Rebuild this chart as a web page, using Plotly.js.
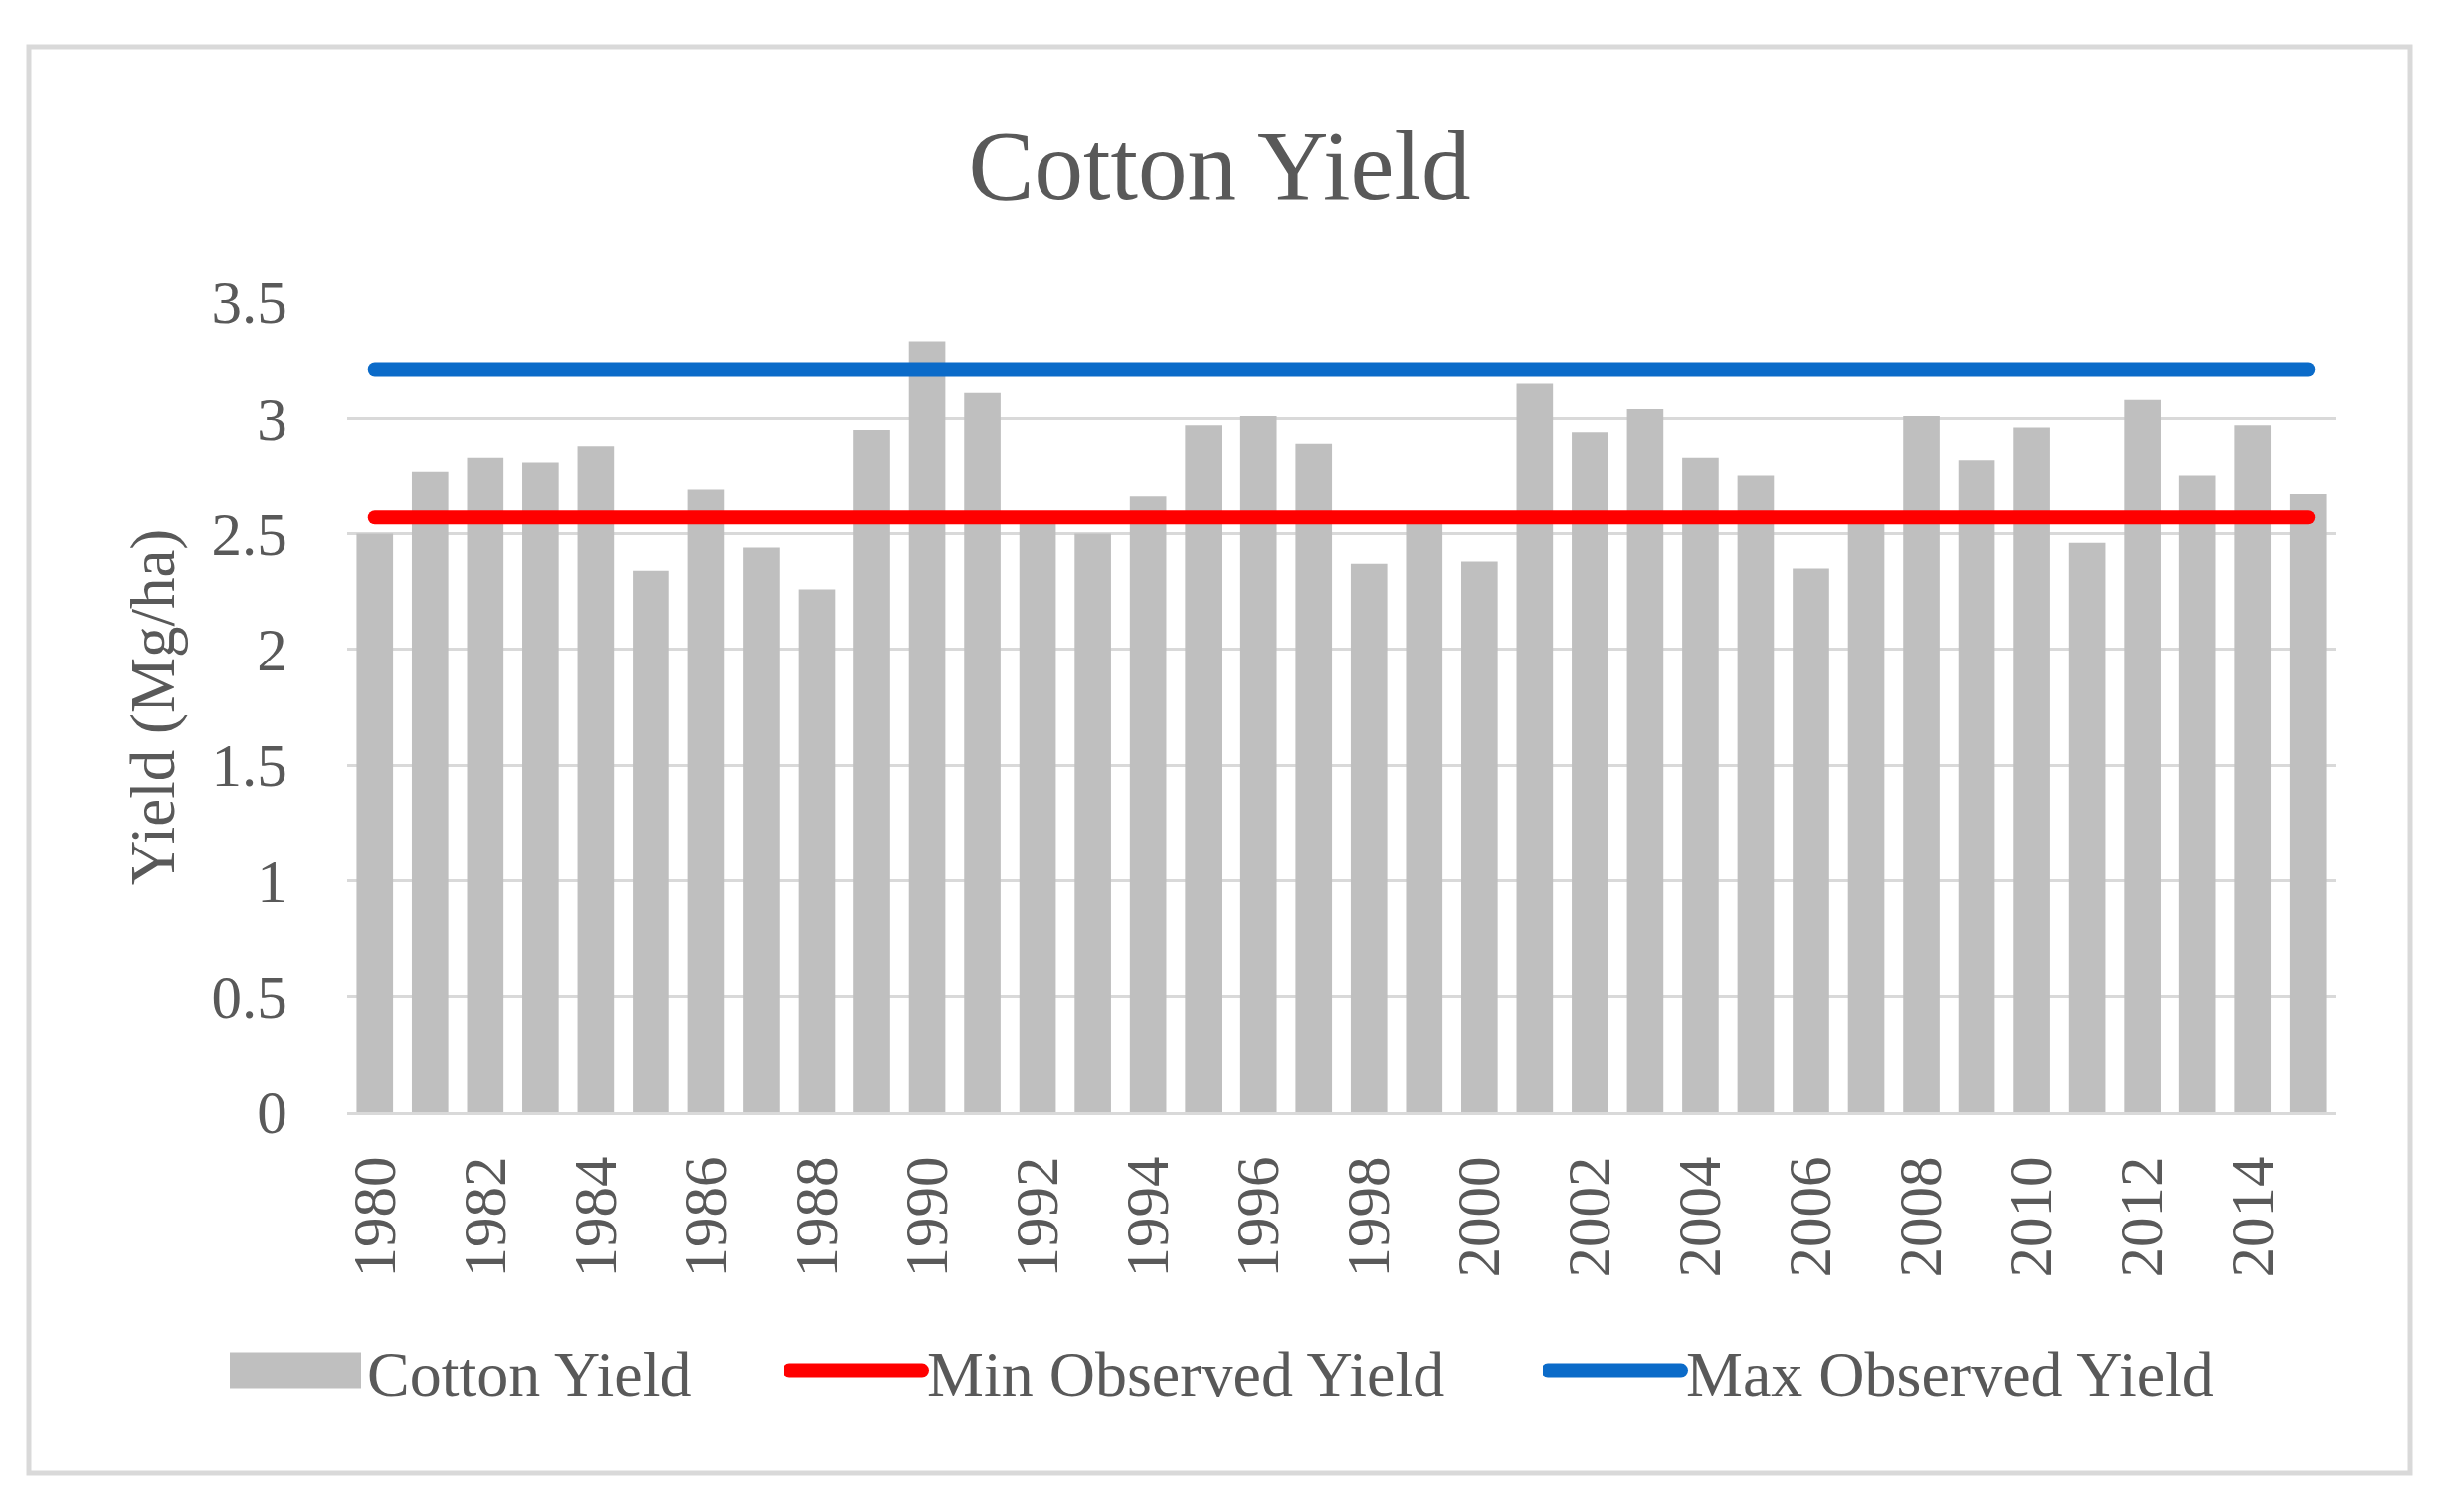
<!DOCTYPE html>
<html>
<head>
<meta charset="utf-8">
<script src="https://cdn.plot.ly/plotly-3.0.1.min.js"></script>
<style>
  html, body { margin: 0; padding: 0; background: #ffffff; }
  #chart { width: 2473px; height: 1520px; }
</style>
</head>
<body>
<div id="chart"></div>
<script>
// ---------------- data ----------------
const years = ['1980','1981','1982','1983','1984','1985','1986','1987','1988','1989',
               '1990','1991','1992','1993','1994','1995','1996','1997','1998','1999',
               '2000','2001','2002','2003','2004','2005','2006','2007','2008','2009',
               '2010','2011','2012','2013','2014','2015'];
const cottonYield = [2.50, 2.77, 2.83, 2.81, 2.88, 2.34, 2.69, 2.44, 2.26, 2.95,
                     3.33, 3.11, 2.56, 2.50, 2.66, 2.97, 3.01, 2.89, 2.37, 2.55,
                     2.38, 3.15, 2.94, 3.04, 2.83, 2.75, 2.35, 2.55, 3.01, 2.82,
                     2.96, 2.46, 3.08, 2.75, 2.97, 2.67];
const minObservedYield = 2.57;
const maxObservedYield = 3.21;
const seriesNames = ['Cotton Yield', 'Min Observed Yield', 'Max Observed Yield'];
const chartTitle = 'Cotton Yield';
const yAxisTitle = 'Yield (Mg/ha)';

// ---------------- layout constants ----------------
const W = 2473, H = 1520;
const plotL = 349, plotR = 2348, plotT = 304, plotB = 1118;
const FONT = "'Liberation Serif', serif";
const TXT = '#595959';
const px2paperX = p => (p - plotL) / (plotR - plotL);
const px2paperY = p => (plotB - p) / (plotB - plotT);

const traces = [
  {
    type: 'bar', name: seriesNames[0], x: years, y: cottonYield,
    marker: { color: '#BFBFBF' }, legend: 'legend', hoverinfo: 'x+y'
  },
  {
    type: 'scatter', mode: 'lines', name: seriesNames[1],
    x: [years[0], years[years.length - 1]], y: [minObservedYield, minObservedYield],
    line: { color: '#FF0000', width: 14 }, legend: 'legend2'
  },
  {
    type: 'scatter', mode: 'lines', name: seriesNames[2],
    x: [years[0], years[years.length - 1]], y: [maxObservedYield, maxObservedYield],
    line: { color: '#0B6BC9', width: 14 }, legend: 'legend3'
  }
];

const legendCommon = {
  orientation: 'h', xref: 'container', yref: 'container',
  xanchor: 'left', yanchor: 'middle', y: 1 - 1378 / H,
  font: { family: FONT, size: 64, color: TXT },
  itemwidth: 134, bgcolor: 'rgba(0,0,0,0)', borderwidth: 0
};

const layout = {
  width: W, height: H,
  paper_bgcolor: '#ffffff', plot_bgcolor: '#ffffff',
  margin: { l: plotL, r: W - plotR, t: plotT, b: H - plotB, pad: 0 },
  font: { family: FONT, color: TXT },
  title: {
    text: chartTitle, xref: 'container', yref: 'container',
    x: 1226 / W, xanchor: 'center', y: 1 - 165 / H, yanchor: 'middle',
    font: { family: FONT, size: 99, color: TXT }
  },
  bargap: 0.34,
  showlegend: true,
  legend: Object.assign({}, legendCommon, { x: 225 / W }),
  legend2: Object.assign({}, legendCommon, { x: 788 / W }),
  legend3: Object.assign({}, legendCommon, { x: 1551 / W }),
  xaxis: {
    type: 'category', tickangle: -90, dtick: 2,
    showgrid: false, zeroline: false,
    showline: true, linecolor: '#D9D9D9', linewidth: 3,
    ticks: 'outside', ticklen: 17, tickcolor: 'rgba(0,0,0,0)',
    tickfont: { family: FONT, size: 61, color: TXT },
    automargin: false, fixedrange: true
  },
  yaxis: {
    range: [0, 3.5], dtick: 0.5, tick0: 0,
    showgrid: true, gridcolor: '#D9D9D9', gridwidth: 3,
    zeroline: false, showline: false,
    ticks: 'outside', ticklen: 47, tickcolor: 'rgba(0,0,0,0)',
    tickfont: { family: FONT, size: 61, color: TXT },
    title: { text: yAxisTitle, font: { family: FONT, size: 63, color: TXT }, standoff: 16 },
    automargin: true, fixedrange: true
  },
  shapes: [{
    type: 'rect', xref: 'paper', yref: 'paper', layer: 'below',
    x0: px2paperX(29), x1: px2paperX(2423), y0: px2paperY(1481), y1: px2paperY(47),
    line: { color: '#D9D9D9', width: 5 }, fillcolor: 'rgba(0,0,0,0)'
  }]
};

function styleLegendSymbols(gd) {
  // enlarge legend swatches to the Excel-like size
  gd.querySelectorAll('.legendpoints path').forEach(p => {
    if (p.classList.contains('legendbar') || (p.getAttribute('d') || '').indexOf('M6,6') === 0) {
      p.setAttribute('d', 'M-66,18H66V-18H-66Z');
    }
  });
  gd.querySelectorAll('.legendlines path').forEach(p => {
    p.style.strokeWidth = '14px';
    p.style.strokeLinecap = 'round';
  });
  gd.querySelectorAll('.scatterlayer .js-line').forEach(p => {
    p.style.strokeLinecap = 'round';
  });
}

const gd = document.getElementById('chart');
Plotly.newPlot(gd, traces, layout, { staticPlot: true, displayModeBar: false }).then(() => {
  styleLegendSymbols(gd);
  gd.on('plotly_afterplot', () => styleLegendSymbols(gd));
});
</script>
</body>
</html>
